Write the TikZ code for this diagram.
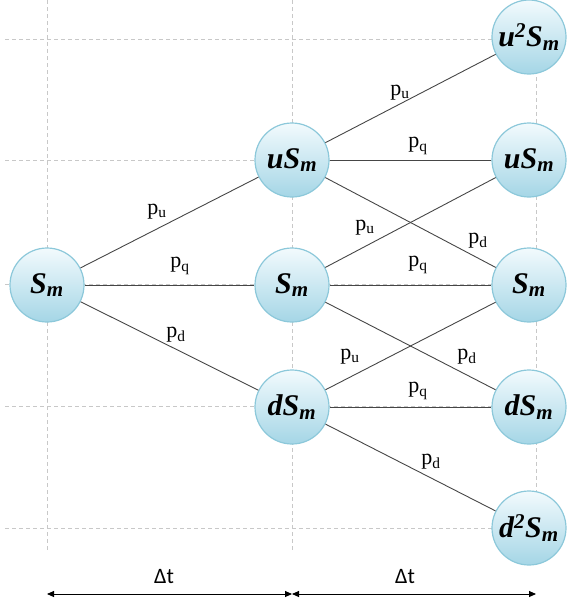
\documentclass[tikz,border=0pt]{standalone}
\usepackage{fontspec}
\setmainfont{Liberation Serif}
\newfontfamily\dtfont{Carlito}
\usetikzlibrary{arrows.meta}
\definecolor{nodeedge}{RGB}{140,200,218}
\definecolor{nodetop}{RGB}{242,250,253}
\definecolor{nodebot}{RGB}{165,214,230}
\definecolor{gridc}{RGB}{200,200,200}
\definecolor{edgec}{RGB}{70,70,70}
\tikzset{
  x=1pt,y=-1pt,
  state/.style={circle,minimum size=74pt,inner sep=0pt,draw=nodeedge,line width=1.2pt,
    top color=nodetop,bottom color=nodebot,
    font=\fontsize{30}{30}\selectfont\bfseries\itshape},
  gridline/.style={draw=gridc,dashed,line width=0.6pt,dash pattern=on 4pt off 3pt},
  link/.style={draw=edgec,line width=0.9pt},
  prob/.style={font=\fontsize{22}{24}\selectfont,inner sep=0pt},
  dt/.style={font=\dtfont\fontsize{22}{24}\selectfont,inner sep=0pt},
  span/.style={draw=black,line width=0.9pt,{Triangle[length=7pt,width=6pt]}-{Triangle[length=7pt,width=6pt]}}
}
\begin{document}
\begin{tikzpicture}
\useasboundingbox (0,0) rectangle (566,603);
% grid
\foreach \yy in {39,160,284,406,528} \draw[gridline] (5,\yy) -- (566,\yy);
\foreach \xx in {47,292,536} \draw[gridline] (\xx,0) -- (\xx,552);
% nodes
\node[state] (s0) at (47,285) {S\textsubscript{m}};
\node[state] (u1) at (292,160) {uS\textsubscript{m}};
\node[state] (s1) at (292,285) {S\textsubscript{m}};
\node[state] (d1) at (292,407) {dS\textsubscript{m}};
\node[state] (uu2) at (529,37) {u\textsuperscript{2}S\textsubscript{m}};
\node[state] (u2) at (529,160) {uS\textsubscript{m}};
\node[state] (s2) at (529,285) {S\textsubscript{m}};
\node[state] (d2) at (529,407) {dS\textsubscript{m}};
\node[state] (dd2) at (529,528) {d\textsuperscript{2}S\textsubscript{m}};
% links
\draw[link] (s0) -- (u1);
\draw[link] (s0) -- (s1);
\draw[link] (s0) -- (d1);
\draw[link] (u1) -- (uu2);
\draw[link] (u1) -- (u2);
\draw[link] (u1) -- (s2);
\draw[link] (s1) -- (u2);
\draw[link] (s1) -- (s2);
\draw[link] (s1) -- (d2);
\draw[link] (d1) -- (s2);
\draw[link] (d1) -- (d2);
\draw[link] (d1) -- (dd2);
% probabilities
\node[prob] (l1) at (157,212) {p\textsubscript{u}};
\node[prob] (l2) at (180,266) {p\textsubscript{q}};
\node[prob] (l3) at (176,335) {p\textsubscript{d}};
\node[prob] (l4) at (400,93) {p\textsubscript{u}};
\node[prob] (l5) at (418,146) {p\textsubscript{q}};
\node[prob] (l6) at (478,241) {p\textsubscript{d}};
\node[prob] (l7) at (365,228) {p\textsubscript{u}};
\node[prob] (l8) at (418,265) {p\textsubscript{q}};
\node[prob] (l9) at (467,357) {p\textsubscript{d}};
\node[prob] (l10) at (350,357) {p\textsubscript{u}};
\node[prob] (l11) at (418,391) {p\textsubscript{q}};
\node[prob] (l12) at (431,462) {p\textsubscript{d}};
% time spans
\coordinate (t0) at (47,594);
\coordinate (t1) at (292,594);
\coordinate (t2) at (536,594);
\draw[span] (t0) -- (t1);
\draw[span] (t1) -- (t2);
\node[dt] (dt1) at (164,577) {Δt};
\node[dt] (dt2) at (405,577) {Δt};
\end{tikzpicture}
\end{document}
